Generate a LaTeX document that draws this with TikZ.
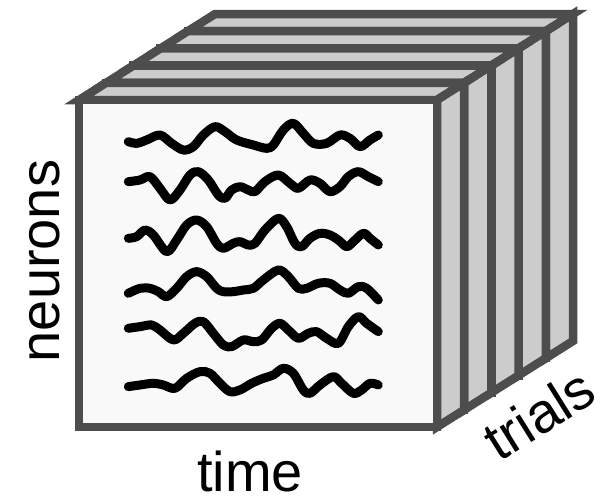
\documentclass[tikz,border=0pt]{standalone}
\usepackage{fontspec}
\setmainfont{Liberation Sans}
\definecolor{edgegray}{HTML}{4D4D4D}
\definecolor{sidegray}{HTML}{CCCCCC}
\definecolor{frontwhite}{HTML}{F9F9F9}
\begin{document}
\begin{tikzpicture}[x=1pt,y=-1pt,
  edge/.style={draw=edgegray, line width=8.5pt},
  sideface/.style={edge, fill=sidegray},
  frontface/.style={edge, fill=frontwhite},
  wave/.style={draw=black, line width=9pt, line cap=round, line join=round},
  lab/.style={font=\fontsize{56}{60}\selectfont, inner sep=0pt, text=black}]
\useasboundingbox (0,0) rectangle (611,496);
\foreach \i in {4,3,2,1,0}{
  \begin{scope}[shift={(27.2*\i pt,17.2*\i pt)}]
    \draw[sideface] (79,100) -- (437,100) -- (464.2,82.8) -- (106.2,82.8) -- cycle;
    \draw[sideface] (437,100) -- (437,427) -- (464.2,409.8) -- (464.2,82.8) -- cycle;
    \draw[frontface] (79,100) rectangle (437,427);
  \end{scope}
}
\begin{scope}[shift={(100pt,-110pt)}, x=0.3333pt, y=-0.3333pt]
\draw[wave] plot[smooth, tension=0.55] coordinates {(85,95) (110,100) (140,90) (180,75) (215,100) (250,120) (280,110) (310,75) (345,50) (375,65) (410,90) (460,105) (500,115) (520,105) (550,60) (580,40) (610,70) (640,100) (680,100) (720,75) (750,85) (780,110) (810,90) (835,75)};
\draw[wave] plot[smooth, tension=0.55] coordinates {(85,215) (120,210) (150,200) (180,235) (210,270) (240,240) (270,195) (295,185) (325,210) (355,255) (375,265) (395,240) (420,230) (445,240) (465,245) (495,215) (535,195) (570,220) (595,235) (630,210) (660,220) (690,245) (720,230) (745,200) (775,185) (805,200) (835,215)};
\draw[wave] plot[smooth, tension=0.55] coordinates {(85,385) (110,380) (135,360) (160,375) (200,425) (230,390) (260,345) (290,330) (320,350) (350,400) (370,415) (400,400) (420,395) (445,405) (465,400) (495,360) (535,325) (560,350) (585,400) (605,410) (630,385) (660,370) (690,375) (715,390) (740,410) (760,395) (790,370) (810,385) (835,405)};
\draw[wave] plot[smooth, tension=0.55] coordinates {(85,550) (120,535) (150,535) (175,545) (200,560) (230,535) (260,500) (290,485) (320,500) (350,535) (370,545) (400,545) (430,540) (460,535) (490,510) (535,480) (565,500) (595,535) (620,535) (655,520) (690,520) (720,540) (745,550) (775,530) (800,535) (835,570)};
\draw[wave] plot[smooth, tension=0.55] coordinates {(85,655) (120,650) (155,645) (180,660) (220,690) (250,670) (285,640) (310,635) (340,670) (370,705) (395,710) (430,690) (460,695) (485,690) (515,655) (540,640) (565,660) (595,685) (625,670) (650,665) (680,685) (715,700) (745,650) (775,620) (800,640) (835,665)};
\draw[wave] plot[smooth, tension=0.55] coordinates {(85,830) (120,825) (160,820) (190,825) (225,835) (260,805) (300,785) (330,790) (360,820) (390,845) (420,840) (455,820) (490,805) (520,795) (550,775) (580,790) (610,840) (630,850) (660,825) (700,800) (725,820) (760,850) (785,840) (810,820) (835,825)};
\end{scope}
\node[lab, anchor=base] (time) at (250,491) {time};
\node[lab, rotate=90] (neurons) at (45,261) {neurons};
\node[lab, rotate=32] (trials) at (539,414) {trials};
\end{tikzpicture}
\end{document}
